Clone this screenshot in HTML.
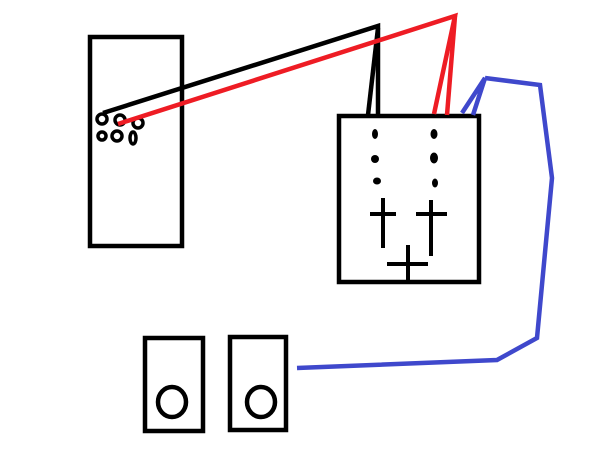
<!DOCTYPE html>
<html><head><style>html,body{margin:0;padding:0;background:#fff}svg{display:block}</style></head>
<body>
<svg width="614" height="460" viewBox="0 0 614 460" xmlns="http://www.w3.org/2000/svg">
<rect width="614" height="460" fill="#fff"/>
<g fill="none" stroke="#000" stroke-width="4.5">
<rect x="90" y="37" width="92" height="209"/>
<rect x="339" y="116" width="140" height="166"/>
<rect x="145" y="338" width="58" height="93"/>
<rect x="230" y="337" width="56" height="93"/>
<ellipse cx="172" cy="402" rx="14" ry="15"/>
<ellipse cx="261" cy="402" rx="14" ry="15"/>
<circle cx="102" cy="119" r="5" stroke-width="3.5"/>
<circle cx="120" cy="120" r="5" stroke-width="3.5"/>
<circle cx="138" cy="123" r="5" stroke-width="3.5"/>
<circle cx="102" cy="136" r="4" stroke-width="3.5"/>
<circle cx="117" cy="136" r="5" stroke-width="3.5"/>
<ellipse cx="133" cy="138" rx="3" ry="6" stroke-width="3.5"/>
<path d="M383 198V248M370 214H396M431 200V256M416 214H447M408 245V280M387 264H428" stroke-width="4"/>
<polyline points="103,113 378,26 378,115" stroke-width="4.5"/>
<line x1="378" y1="28" x2="368" y2="115" stroke-width="4.5"/>
<polyline points="118,124 455,16 434,114" stroke="#ee1c24" stroke-width="4.5"/>
<line x1="455" y1="16" x2="447" y2="115" stroke="#ee1c24" stroke-width="4.5"/>
<polyline points="462,113 485,78 473,115" stroke="#3f48cc" stroke-width="4.5"/>
<polyline points="485,78 540,85 552,178 537,338 497,360 297,368" stroke="#3f48cc" stroke-width="4.5"/>
</g>
<g fill="#000">
<ellipse cx="375" cy="134" rx="3" ry="5"/>
<ellipse cx="375" cy="159" rx="4" ry="4"/>
<ellipse cx="377" cy="181" rx="4" ry="3.5"/>
<ellipse cx="434" cy="134" rx="3.5" ry="5"/>
<ellipse cx="434" cy="158" rx="4" ry="5.5"/>
<ellipse cx="435" cy="183" rx="3" ry="4.5"/>
</g>
</svg>
</body></html>
